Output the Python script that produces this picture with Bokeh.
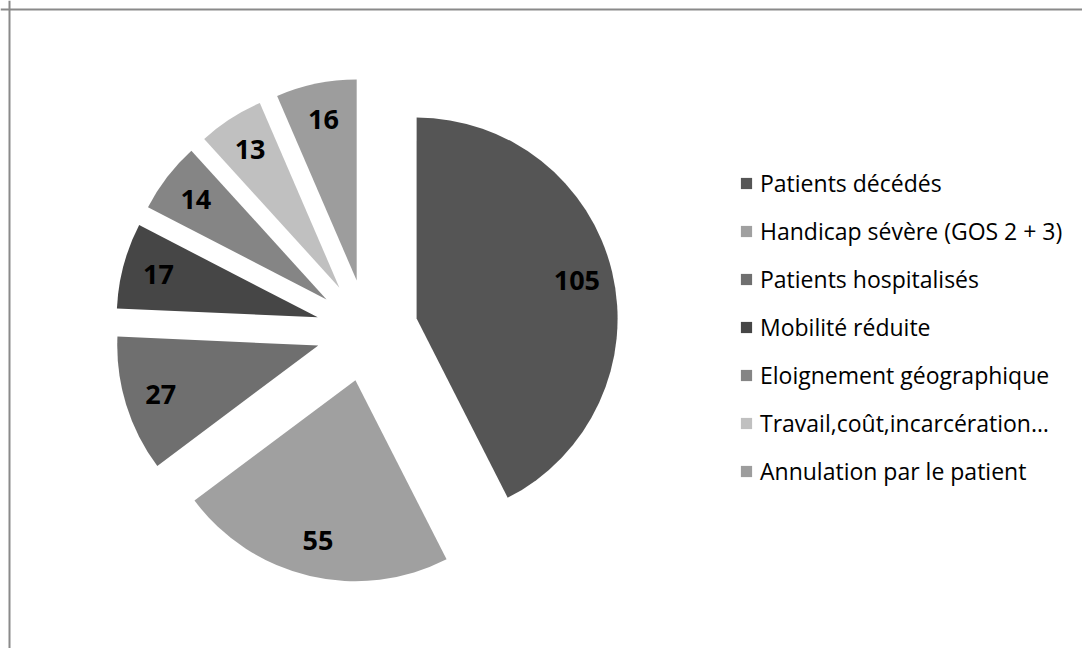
import math
from bokeh.plotting import figure
from bokeh.models import ColumnDataSource, Range1d, Span, Legend, LegendItem
from bokeh.core.properties import value
from bokeh.embed import file_html
from bokeh.resources import INLINE

# ---- data ----
categories = [
    "Patients décédés",
    "Handicap sévère (GOS 2 + 3)",
    "Patients hospitalisés",
    "Mobilité réduite",
    "Eloignement géographique",
    "Travail,coût,incarcération…",
    "Annulation par le patient",
]
counts = [105, 55, 27, 17, 14, 13, 16]
colors = ["#555555", "#a0a0a0", "#6f6f6f", "#464646", "#858585", "#c0c0c0", "#9d9d9d"]

# ---- layout / style ----
W, H = 1082, 648
CX, CY = 366.5, 318.0   # pie centre (px, y up)
R = 201                 # pie radius (px)
EXPLODE = 51            # explosion offset (px)
LABEL_R = 0.82          # label position as fraction of radius
FONT = "Open Sans"

total = float(sum(counts))
sa, ea, cx, cy, lx, ly, txt = [], [], [], [], [], [], []
cum = 0.0
for v in counts:
    a0 = cum / total * 2 * math.pi
    cum += v
    a1 = cum / total * 2 * math.pi
    mid = (a0 + a1) / 2
    dx, dy = math.sin(mid), math.cos(mid)
    ox, oy = CX + EXPLODE * dx, CY + EXPLODE * dy
    cx.append(ox)
    cy.append(oy)
    sa.append(math.pi / 2 - a1)
    ea.append(math.pi / 2 - a0)
    lx.append(ox + LABEL_R * R * dx)
    ly.append(oy + LABEL_R * R * dy)
    txt.append(str(v))

src = ColumnDataSource(dict(cx=cx, cy=cy, sa=sa, ea=ea, color=colors,
                            lx=lx, ly=ly, txt=txt, cat=categories))

p = figure(width=W, height=H, x_range=Range1d(0, W), y_range=Range1d(0, H),
           output_backend="svg", toolbar_location=None, min_border=0,
           x_axis_location=None, y_axis_location=None)
p.grid.visible = False
p.outline_line_color = None
p.background_fill_color = "white"
p.border_fill_color = "white"

r = p.wedge(x="cx", y="cy", radius=R, start_angle="sa", end_angle="ea",
            direction="anticlock", fill_color="color", line_color=None, source=src)

p.text(x="lx", y="ly", text="txt", source=src, text_font=value(FONT),
       text_font_style="bold", text_font_size="27px", text_color="black",
       text_align="center", text_baseline="middle")

items = [LegendItem(label=c, renderers=[r], index=i) for i, c in enumerate(categories)]
legend = Legend(items=items, location=(739, 161), border_line_color=None,
                background_fill_alpha=0, padding=0, margin=0, spacing=16,
                glyph_width=14, glyph_height=14, label_standoff=7,
                label_text_font=FONT, label_text_font_size="23px",
                label_height=20, label_text_color="black")
p.add_layout(legend)

p.add_layout(Span(location=H - 9, dimension="width", line_color="#8a8a8a", line_width=2))
p.add_layout(Span(location=9, dimension="height", line_color="#8a8a8a", line_width=2))

open("out.html", "w").write(file_html(p, INLINE))
